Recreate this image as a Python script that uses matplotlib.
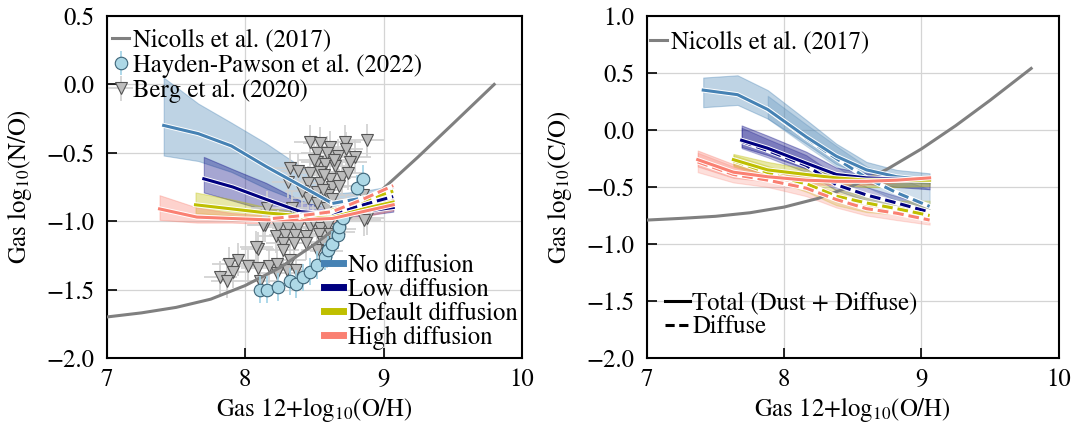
import numpy as np
import matplotlib
matplotlib.use('Agg')
import matplotlib.pyplot as plt
import matplotlib.patheffects as pe
from matplotlib.lines import Line2D

plt.rcParams['font.family'] = ['STIXGeneral', 'DejaVu Serif']
plt.rcParams['mathtext.fontset'] = 'stix'
fs = 17.8
plt.rcParams['font.size'] = fs

'~~~~~~~~~~ DATA ~~~~~~~~~~'
# Nicolls et al. (2017) relations
nic_x = [7.0, 7.25, 7.5, 7.75, 8.0, 8.25, 8.5, 8.75, 9.0, 9.25, 9.5, 9.8]
nic_no = [-1.70, -1.67, -1.63, -1.57, -1.47, -1.34, -1.17, -0.98, -0.76, -0.53, -0.29, 0.0]
nic_co = [-0.79, -0.775, -0.757, -0.726, -0.676, -0.599, -0.489, -0.344, -0.166, 0.038, 0.26, 0.54]

# Hayden-Pawson et al. (2022)
hp_x = [8.11, 8.16, 8.24, 8.32, 8.37, 8.42, 8.47, 8.52, 8.58, 8.60, 8.63, 8.67, 8.68, 8.71, 8.81, 8.85]
hp_y = [-1.50, -1.50, -1.48, -1.44, -1.46, -1.41, -1.37, -1.32, -1.26, -1.21, -1.17, -1.10, -1.04, -0.98, -0.76, -0.69]

# Berg et al. (2020)
berg_x = [8.47, 8.54, 8.61, 8.72, 8.88, 8.73, 8.52, 8.59, 8.67, 8.79, 8.52, 8.58, 8.65, 8.76,
          8.32, 8.38, 8.47, 8.54, 8.61, 8.70, 8.74, 8.31, 8.45, 8.54, 8.63, 8.68, 8.52, 8.60,
          8.45, 8.52, 8.16, 8.34, 8.59, 8.73, 8.88, 8.85,
          8.14, 8.24, 8.31, 8.38, 8.47, 8.54, 8.60, 8.68, 8.86, 8.22, 8.29, 8.36, 8.44, 8.53,
          8.61, 8.67, 8.27, 8.35, 8.44, 8.56, 8.09, 8.27, 8.52, 8.59, 8.32, 7.88, 7.95, 8.02,
          8.09, 8.17, 8.23, 8.30, 7.91, 7.82, 7.87, 8.11, 8.23, 8.37, 8.08, 8.13,
          8.50, 8.57, 8.64, 8.41, 8.56, 8.63, 8.49, 8.66]
berg_y = [-0.42, -0.43, -0.46, -0.42, -0.41, -0.47, -0.50, -0.50, -0.52, -0.53, -0.57, -0.58, -0.60, -0.57,
          -0.61, -0.63, -0.65, -0.64, -0.69, -0.68, -0.65, -0.71, -0.72, -0.72, -0.75, -0.74, -0.79, -0.81,
          -0.83, -0.87, -0.90, -0.90, -0.90, -0.93, -0.98, -0.81,
          -1.03, -1.04, -1.05, -1.04, -1.04, -1.05, -1.03, -1.06, -0.99, -1.11, -1.10, -1.10, -1.11, -1.09,
          -1.09, -1.08, -1.16, -1.16, -1.16, -1.15, -1.20, -1.21, -1.21, -1.22, -1.28, -1.31, -1.28, -1.33,
          -1.34, -1.33, -1.31, -1.36, -1.37, -1.41, -1.44, -1.44, -1.38, -1.36, -1.19, -1.03,
          -0.55, -0.66, -0.55, -0.78, -0.77, -0.84, -1.00, -0.96]

# N/O models (left panel)
no_nd_x = [7.41, 7.66, 7.90, 8.15, 8.40, 8.63, 8.85, 9.07]
no_nd_y = [-0.30, -0.36, -0.45, -0.60, -0.74, -0.87, -0.84, -0.80]
no_nd_hi = [0.05, -0.14, -0.28, -0.43, -0.60, -0.80, -0.78, -0.74]
no_nd_lo = [-0.52, -0.56, -0.64, -0.76, -0.86, -0.92, -0.88, -0.85]
no_nd_dx = [8.63, 8.85, 9.07]
no_nd_dy = [-0.87, -0.83, -0.79]

no_lo_x = [7.70, 7.91, 8.15, 8.40, 8.63, 8.85, 9.07]
no_lo_y = [-0.69, -0.75, -0.84, -0.93, -0.95, -0.93, -0.90]
no_lo_hi = [-0.53, -0.62, -0.72, -0.85, -0.92, -0.90, -0.87]
no_lo_lo = [-0.79, -0.85, -0.92, -0.98, -0.98, -0.96, -0.93]
no_lo_dx = [8.40, 8.63, 8.85, 9.07]
no_lo_dy = [-0.95, -0.94, -0.88, -0.82]

no_df_x = [7.64, 7.90, 8.16, 8.40, 8.63, 8.85, 9.07]
no_df_y = [-0.88, -0.91, -0.94, -0.96, -0.97, -0.91, -0.86]
no_df_hi = [-0.79, -0.84, -0.90, -0.94, -0.95, -0.88, -0.82]
no_df_lo = [-0.94, -0.96, -0.98, -0.99, -0.99, -0.94, -0.89]
no_df_dx = [8.40, 8.63, 8.85, 9.07]
no_df_dy = [-0.97, -0.92, -0.85, -0.78]

no_hi_x = [7.38, 7.65, 7.90, 8.16, 8.40, 8.63, 8.85, 9.07]
no_hi_y = [-0.91, -0.97, -0.98, -0.99, -0.99, -0.98, -0.93, -0.88]
no_hi_hi = [-0.81, -0.90, -0.94, -0.96, -0.96, -0.95, -0.88, -0.82]
no_hi_lo = [-0.99, -1.01, -1.01, -1.02, -1.02, -1.01, -0.97, -0.92]
no_hi_dx = [8.20, 8.40, 8.63, 8.85, 9.07]
no_hi_dy = [-0.98, -0.96, -0.93, -0.84, -0.74]

# C/O models (right panel)
co_nd_x = [7.41, 7.66, 7.88, 8.16, 8.38, 8.60, 8.82, 9.06]
co_nd_y = [0.35, 0.31, 0.18, -0.06, -0.23, -0.35, -0.41, -0.44]
co_nd_hi = [0.46, 0.48, 0.35, 0.09, -0.12, -0.28, -0.35, -0.38]
co_nd_lo = [0.20, 0.22, 0.10, -0.12, -0.30, -0.40, -0.45, -0.47]
co_nd_dx = [7.88, 8.16, 8.38, 8.60, 8.82, 9.06]
co_nd_dy = [0.18, -0.07, -0.25, -0.42, -0.55, -0.67]
co_nd_dhi = [0.30, 0.05, -0.14, -0.32, -0.42, -0.52]
co_nd_dlo = [0.10, -0.14, -0.32, -0.50, -0.62, -0.72]

co_lo_x = [7.69, 7.88, 8.16, 8.38, 8.60, 8.82, 9.06]
co_lo_y = [-0.09, -0.16, -0.29, -0.39, -0.42, -0.43, -0.44]
co_lo_hi = [0.04, -0.05, -0.19, -0.33, -0.38, -0.40, -0.42]
co_lo_lo = [-0.15, -0.22, -0.34, -0.43, -0.47, -0.50, -0.52]
co_lo_dy = [-0.10, -0.18, -0.31, -0.48, -0.57, -0.64, -0.72]
co_lo_dhi = [0.02, -0.08, -0.22, -0.40, -0.50, -0.58, -0.66]
co_lo_dlo = [-0.16, -0.24, -0.37, -0.53, -0.62, -0.69, -0.76]

co_df_x = [7.63, 7.88, 8.16, 8.38, 8.60, 8.82, 9.06]
co_df_y = [-0.26, -0.35, -0.39, -0.42, -0.44, -0.44, -0.44]
co_df_hi = [-0.21, -0.28, -0.34, -0.39, -0.42, -0.42, -0.42]
co_df_lo = [-0.31, -0.40, -0.45, -0.48, -0.50, -0.50, -0.49]
co_df_dx = [7.63, 7.97, 8.18, 8.38, 8.60, 8.82, 9.06]
co_df_dy = [-0.27, -0.41, -0.48, -0.58, -0.64, -0.69, -0.75]
co_df_dhi = [-0.22, -0.35, -0.43, -0.52, -0.58, -0.62, -0.62]
co_df_dlo = [-0.32, -0.46, -0.55, -0.66, -0.72, -0.74, -0.78]

co_hi_x = [7.37, 7.63, 7.88, 8.16, 8.38, 8.60, 8.82, 9.06]
co_hi_y = [-0.26, -0.37, -0.41, -0.44, -0.45, -0.45, -0.44, -0.42]
co_hi_hi = [-0.18, -0.30, -0.36, -0.40, -0.42, -0.43, -0.42, -0.40]
co_hi_lo = [-0.32, -0.42, -0.45, -0.48, -0.48, -0.48, -0.46, -0.44]
co_hi_dy = [-0.28, -0.39, -0.44, -0.51, -0.61, -0.69, -0.73, -0.79]
co_hi_dhi = [-0.20, -0.32, -0.38, -0.45, -0.55, -0.63, -0.68, -0.74]
co_hi_dlo = [-0.37, -0.46, -0.50, -0.58, -0.68, -0.75, -0.79, -0.83]

colors = ['#4682b4', 'navy', '#bfbf00', 'salmon']
names = ['No diffusion', 'Low diffusion', 'Default diffusion', 'High diffusion']

'------------------ HELPERS ------------------'
def band(ax, x, lo, hi, c, a=0.35):
    ax.fill_between(x, lo, hi, color=c, alpha=a, lw=0.8, zorder=1)

def solid(ax, x, y, c):
    ax.plot(x, y, color=c, lw=2.2, zorder=5,
            path_effects=[pe.Stroke(linewidth=3.6, foreground='w'), pe.Normal()])

def dashed(ax, x, y, c):
    ax.plot(x, y, color='w', lw=3.6, zorder=5)
    ax.plot(x, y, color=c, lw=2.2, ls=(0, (3.5, 1.6)), zorder=5)

def style(ax, ylo, yhi):
    ax.set_xlim(7, 10)
    ax.set_ylim(ylo, yhi)
    ax.set_xticks([7, 8, 9, 10])
    ax.grid(color='#d4d4d4', lw=0.9)
    ax.set_axisbelow(True)
    ax.tick_params(direction='in', length=7, width=1.2, labelsize=fs, pad=9)
    ax.tick_params(axis='x', pad=7)
    for s in ax.spines.values():
        s.set_linewidth(1.5)
    ax.set_xlabel(r'Gas 12+log$_{10}$(O/H)', fontsize=fs, labelpad=2)

fig = plt.figure(figsize=(10.72, 4.29), dpi=100)
ax1 = fig.add_axes([0.0998, 0.1655, 0.387, 0.7972])
ax2 = fig.add_axes([0.6035, 0.1655, 0.384, 0.7972])

'------------------ LEFT: N/O ------------------'
nic1, = ax1.plot(nic_x, nic_no, color='grey', lw=2.2, zorder=3, label='Nicolls et al. (2017)')
hp = ax1.errorbar(hp_x, hp_y, yerr=0.1, fmt='o', ms=9, mfc='lightblue', mec='#3c6478', mew=0.8,
                  ecolor='#9fd2e6', elinewidth=1.2, zorder=3, label='Hayden-Pawson et al. (2022)')
bg = ax1.errorbar(berg_x, berg_y, xerr=0.12, yerr=0.12, fmt='v', ms=9, mfc='#bdbdbd', mec='#555555',
                  mew=0.8, ecolor='#d0d0d0', elinewidth=1.2, zorder=2, label='Berg et al. (2020)')

left = [(no_nd_x, no_nd_y, no_nd_lo, no_nd_hi, no_nd_dx, no_nd_dy),
        (no_lo_x, no_lo_y, no_lo_lo, no_lo_hi, no_lo_dx, no_lo_dy),
        (no_df_x, no_df_y, no_df_lo, no_df_hi, no_df_dx, no_df_dy),
        (no_hi_x, no_hi_y, no_hi_lo, no_hi_hi, no_hi_dx, no_hi_dy)]
for i, (x, y, lo, hi, dx, dy) in enumerate(left):
    band(ax1, x, lo, hi, colors[i])
for i, (x, y, lo, hi, dx, dy) in enumerate(left):
    solid(ax1, x, y, colors[i])
for i, (x, y, lo, hi, dx, dy) in enumerate(left):
    dashed(ax1, dx, dy, colors[i])

style(ax1, -2.0, 0.5)
ax1.set_yticks([0.5, 0.0, -0.5, -1.0, -1.5, -2.0])
ax1.set_ylabel(r'Gas log$_{10}$(N/O)', fontsize=fs, labelpad=9)

leg1 = ax1.legend(handles=[nic1, hp, bg], loc='upper left', frameon=False, handlelength=0.7,
                  handletextpad=0.15, labelspacing=0.05, borderaxespad=0.3, borderpad=0.2, fontsize=fs,
                  bbox_to_anchor=(-0.018, 1.0))
ax1.add_artist(leg1)
mh = [Line2D([], [], color=c, lw=5) for c in colors]
ax1.legend(mh, names, loc='lower right', frameon=False, handlelength=0.75, handletextpad=0.2,
           labelspacing=0.0, borderaxespad=0.4, borderpad=0.2, fontsize=fs, bbox_to_anchor=(1.025, -0.02))

'------------------ RIGHT: C/O ------------------'
nic2, = ax2.plot(nic_x, nic_co, color='grey', lw=2.2, zorder=3, label='Nicolls et al. (2017)')

right = [(co_nd_x, co_nd_y, co_nd_lo, co_nd_hi, co_nd_dx, co_nd_dy, co_nd_dlo, co_nd_dhi),
         (co_lo_x, co_lo_y, co_lo_lo, co_lo_hi, co_lo_x, co_lo_dy, co_lo_dlo, co_lo_dhi),
         (co_df_x, co_df_y, co_df_lo, co_df_hi, co_df_dx, co_df_dy, co_df_dlo, co_df_dhi),
         (co_hi_x, co_hi_y, co_hi_lo, co_hi_hi, co_hi_x, co_hi_dy, co_hi_dlo, co_hi_dhi)]
for i, (x, y, lo, hi, dx, dy, dlo, dhi) in enumerate(right):
    band(ax2, x, lo, hi, colors[i])
    band(ax2, dx, dlo, dhi, colors[i], a=0.25)
for i, (x, y, lo, hi, dx, dy, dlo, dhi) in enumerate(right):
    dashed(ax2, dx, dy, colors[i])
for i, (x, y, lo, hi, dx, dy, dlo, dhi) in enumerate(right):
    solid(ax2, x, y, colors[i])

style(ax2, -2.0, 1.0)
ax2.set_yticks([1.0, 0.5, 0.0, -0.5, -1.0, -1.5, -2.0])
ax2.set_ylabel(r'Gas log$_{10}$(C/O)', fontsize=fs, labelpad=9)

leg2 = ax2.legend(handles=[nic2], loc='upper left', frameon=False, handlelength=0.7,
                  handletextpad=0.15, borderaxespad=0.5, borderpad=0.2, fontsize=fs,
                  bbox_to_anchor=(-0.035, 1.008))
ax2.add_artist(leg2)
lh = [Line2D([], [], color='k', lw=2.2), Line2D([], [], color='k', lw=2.2, ls=(0, (3, 1.5)))]
ax2.legend(lh, ['Total (Dust + Diffuse)', 'Diffuse'], loc='lower left', frameon=False,
           handlelength=1.0, handletextpad=0.1, labelspacing=0.0, borderaxespad=0.7, borderpad=0.2,
           fontsize=fs, bbox_to_anchor=(-0.01, -0.01))

fig.savefig('out.png', dpi=100)
